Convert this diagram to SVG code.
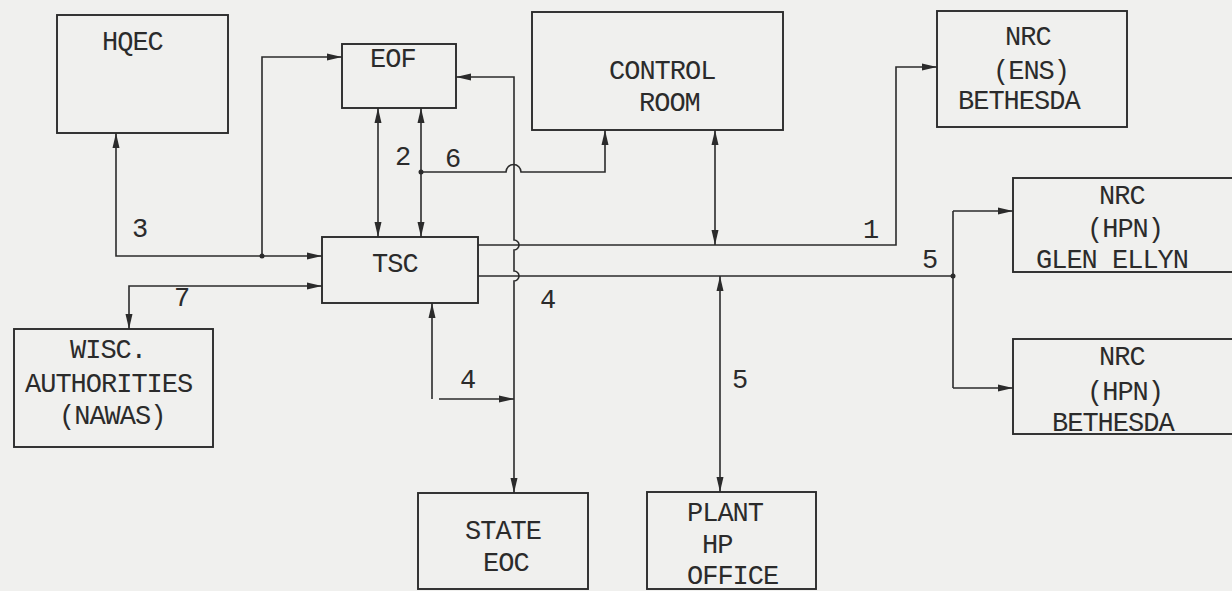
<svg xmlns="http://www.w3.org/2000/svg" width="1232" height="591" viewBox="0 0 1232 591">
<style>
.bg{fill:#f0f0ee}
.box{fill:none;stroke:#2b2b2b;stroke-width:1.9}
.ln{fill:none;stroke:#2b2b2b;stroke-width:1.6}
.t{font-family:"Liberation Mono","Courier New",monospace;font-size:27px;letter-spacing:-1px;fill:#2b2b2b}
.dot{fill:#2b2b2b}
</style>
<defs>
<marker id="ah" markerUnits="userSpaceOnUse" markerWidth="15" markerHeight="9" refX="15" refY="4.5" orient="auto-start-reverse">
<path d="M0,1 L15,4.5 L0,8 z" fill="#2b2b2b"/>
</marker>
</defs>
<rect class="bg" x="0" y="0" width="1232" height="591"/>

<g id="hqec"><rect class="box" x="57" y="15" width="171" height="118"/><text class="t" x="102" y="50">HQEC</text></g>
<g id="eof"><rect class="box" x="342" y="44" width="114" height="64"/><text class="t" x="370" y="67">EOF</text></g>
<g id="control-room"><rect class="box" x="532" y="12" width="251" height="118"/><text class="t" x="609" y="79">CONTROL</text><text class="t" x="639" y="111">ROOM</text></g>
<g id="nrc-ens"><rect class="box" x="937" y="11" width="190" height="116"/><text class="t" x="1005" y="45">NRC</text><text class="t" x="993" y="79">(ENS)</text><text class="t" x="958" y="109">BETHESDA</text></g>
<g id="nrc-hpn-glen-ellyn"><rect class="box" x="1013" y="178" width="240" height="94"/><text class="t" x="1099" y="204">NRC</text><text class="t" x="1087" y="237">(HPN)</text><text class="t" x="1036" y="268">GLEN ELLYN</text></g>
<g id="nrc-hpn-bethesda"><rect class="box" x="1013" y="339" width="240" height="95"/><text class="t" x="1099" y="365">NRC</text><text class="t" x="1087" y="400">(HPN)</text><text class="t" x="1052" y="431">BETHESDA</text></g>
<g id="tsc"><rect class="box" x="322" y="237" width="156" height="66"/><text class="t" x="372" y="272">TSC</text></g>
<g id="wisc"><rect class="box" x="14" y="329" width="199" height="118"/><text class="t" x="70" y="358">WISC.</text><text class="t" x="25" y="392">AUTHORITIES</text><text class="t" x="59" y="424">(NAWAS)</text></g>
<g id="state-eoc"><rect class="box" x="418" y="493" width="170" height="96"/><text class="t" x="465" y="539">STATE</text><text class="t" x="483" y="571">EOC</text></g>
<g id="plant-hp-office"><rect class="box" x="647" y="492" width="169" height="97"/><text class="t" x="687" y="521">PLANT</text><text class="t" x="702" y="553">HP</text><text class="t" x="687" y="584">OFFICE</text></g>

<g id="connectors">
<path class="ln" d="M116,133 L116,256 L322,256" marker-start="url(#ah)" marker-end="url(#ah)"/>
<path class="ln" d="M262,256 L262,57 L342,57" marker-end="url(#ah)"/>
<circle class="dot" cx="262" cy="256" r="2.5"/>
<path class="ln" d="M322,286 L129,286 L129,329" marker-start="url(#ah)" marker-end="url(#ah)"/>
<path class="ln" d="M378,108 L378,237" marker-start="url(#ah)" marker-end="url(#ah)"/>
<path class="ln" d="M421,108 L421,237" marker-start="url(#ah)" marker-end="url(#ah)"/>
<path class="ln" d="M421,172 L506,172 A7,7 0 0 1 521,172 L605,172 L605,130" marker-end="url(#ah)"/>
<circle class="dot" cx="421" cy="172" r="2.5"/>
<path class="ln" d="M456,77 L514,77 L514,240 A5,5 0 0 1 514,250 L514,271 A5,5 0 0 1 514,281 L514,493" marker-start="url(#ah)" marker-end="url(#ah)"/>
<path class="ln" d="M514,399 L439,399 M432,399 L432,303" marker-start="url(#ah)" marker-end="url(#ah)"/>
<path class="ln" d="M478,245 L896,245 L896,67 L937,67" marker-end="url(#ah)"/>
<path class="ln" d="M715,130 L715,245" marker-start="url(#ah)" marker-end="url(#ah)"/>
<path class="ln" d="M478,276 L953,276"/>
<path class="ln" d="M953,211 L953,388"/>
<path class="ln" d="M953,211 L1013,211" marker-end="url(#ah)"/>
<path class="ln" d="M953,388 L1013,388" marker-end="url(#ah)"/>
<circle class="dot" cx="953" cy="276" r="2.5"/>
<path class="ln" d="M720,276 L720,492" marker-start="url(#ah)" marker-end="url(#ah)"/>
</g>

<g id="labels">
<text class="t" x="132" y="237">3</text>
<text class="t" x="174" y="306">7</text>
<text class="t" x="395" y="165">2</text>
<text class="t" x="445" y="167">6</text>
<text class="t" x="863" y="238">1</text>
<text class="t" x="922" y="268">5</text>
<text class="t" x="540" y="308">4</text>
<text class="t" x="460" y="388">4</text>
<text class="t" x="732" y="388">5</text>
</g>
</svg>
